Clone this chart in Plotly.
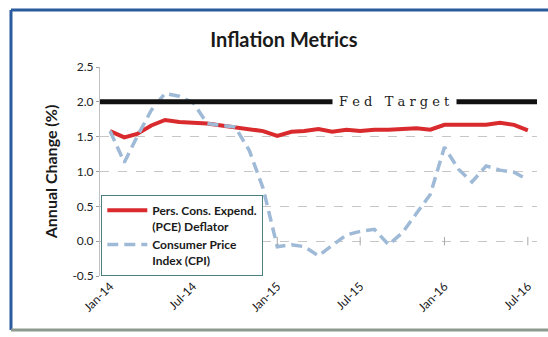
import plotly.graph_objects as go

# Monthly observations, Jan-2014 .. Jul-2016
months = [
    "2014-01-01", "2014-02-01", "2014-03-01", "2014-04-01", "2014-05-01", "2014-06-01",
    "2014-07-01", "2014-08-01", "2014-09-01", "2014-10-01", "2014-11-01", "2014-12-01",
    "2015-01-01", "2015-02-01", "2015-03-01", "2015-04-01", "2015-05-01", "2015-06-01",
    "2015-07-01", "2015-08-01", "2015-09-01", "2015-10-01", "2015-11-01", "2015-12-01",
    "2016-01-01", "2016-02-01", "2016-03-01", "2016-04-01", "2016-05-01", "2016-06-01",
    "2016-07-01",
]

# Personal consumption expenditures deflator, annual % change
pce = [
    1.58, 1.49, 1.54, 1.66, 1.74, 1.71, 1.70, 1.69, 1.66, 1.63, 1.61, 1.58,
    1.51, 1.57, 1.58, 1.61, 1.57, 1.60, 1.58, 1.60, 1.60, 1.61, 1.62, 1.60,
    1.67, 1.67, 1.67, 1.67, 1.70, 1.67, 1.59,
]

# Consumer price index, annual % change
cpi = [
    1.58, 1.13, 1.50, 1.88, 2.12, 2.08, 1.99, 1.69, 1.66, 1.64, 1.30, 0.76,
    -0.08, -0.05, -0.08, -0.21, -0.06, 0.09, 0.14, 0.17, -0.05, 0.12, 0.40, 0.67,
    1.35, 1.03, 0.85, 1.08, 1.02, 0.99, 0.88,
]

fed_target = 2.0

tick_dates = ["2014-01-01", "2014-07-01", "2015-01-01", "2015-07-01", "2016-01-01", "2016-07-01"]
tick_text = ["Jan-14", "Jul-14", "Jan-15", "Jul-15", "Jan-16", "Jul-16"]
y_ticks = [-0.5, 0.0, 0.5, 1.0, 1.5, 2.0, 2.5]
y_text = ["-0.5", "0.0", "0.5", "1.0", "1.5", "2.0", "2.5"]

FONT = "Lato, 'Open Sans', sans-serif"

fig = go.Figure()

fig.add_trace(go.Scatter(
    x=months, y=pce, mode="lines",
    name="Pers. Cons. Expend.<br>(PCE) Deflator",
    line=dict(color="#d92a2e", width=4),
))
fig.add_trace(go.Scatter(
    x=months, y=cpi, mode="lines",
    name="Consumer Price<br>Index (CPI)",
    line=dict(color="#9fbad6", width=3.5, dash="11px,6px"),
))

# small tick marks on the horizontal axis, which crosses at zero
fig.add_trace(go.Scatter(
    x=tick_dates, y=[0.0] * len(tick_dates), mode="markers",
    marker=dict(symbol="line-ns-open", size=6, color="#a8a8a8",
                line=dict(color="#a8a8a8", width=1)),
    showlegend=False, hoverinfo="skip",
))

# Fed target reference line across the full plot width
fig.add_shape(type="line", xref="paper", yref="y", x0=0, x1=1, y0=fed_target, y1=fed_target,
              line=dict(color="#111111", width=5), layer="above")
fig.add_annotation(xref="paper", yref="y", x=0.675, y=fed_target,
                   xanchor="center", yanchor="middle",
                   text="F e d   T a r g e t", showarrow=False,
                   font=dict(family="'DejaVu Serif', serif", size=13, color="#222222"),
                   bgcolor="white", borderpad=6)

# outer chart frame
fig.add_shape(type="line", xref="paper", yref="paper", x0=-0.2037, x1=1.05, y0=1.2727, y1=1.2727,
              line=dict(color="#2a5b9c", width=3))
fig.add_shape(type="line", xref="paper", yref="paper", x0=-0.2037, x1=-0.2037, y0=1.2727, y1=-0.2584,
              line=dict(color="#2a5b9c", width=3))
fig.add_shape(type="line", xref="paper", yref="paper", x0=-0.2037, x1=1.05, y0=-0.2584, y1=-0.2584,
              line=dict(color="#8c9a90", width=3))

fig.update_layout(
    width=548, height=337,
    margin=dict(l=100, r=11, t=67, b=61),
    paper_bgcolor="white", plot_bgcolor="white",
    title=dict(text="<b>Inflation Metrics</b>", x=0.518, xanchor="center", y=0.88, yanchor="middle",
               font=dict(family=FONT, size=20, color="#1a1a1a")),
    font=dict(family=FONT, color="#222222"),
    showlegend=True,
    legend=dict(
        x=0.003, y=0.0, xanchor="left", yanchor="bottom",
        bgcolor="white", bordercolor="#4a8080", borderwidth=1,
        font=dict(family=FONT, size=12, color="#1a1a1a"),
        valign="top", tracegroupgap=0, itemwidth=40,
    ),
    xaxis=dict(
        type="date", range=["2013-12-10", "2016-07-21"],
        tickmode="array", tickvals=tick_dates, ticktext=tick_text,
        tickangle=-45, tickfont=dict(family=FONT, size=12, color="#222222"),
        showgrid=False, showline=False, zeroline=False, ticks="",
    ),
    yaxis=dict(
        range=[-0.5, 2.5], tickmode="array", tickvals=y_ticks, ticktext=y_text,
        tickfont=dict(family=FONT, size=12, color="#222222"),
        showgrid=True, gridcolor="#c6c6c6", griddash="dash", gridwidth=1,
        showline=True, linecolor="#c0c0c0", linewidth=1,
        ticks="outside", ticklen=3, tickcolor="#a0a0a0",
        zeroline=False,
        title=dict(text="<b>Annual Change (%)</b>", font=dict(family=FONT, size=16, color="#1a1a1a"),
                   standoff=10),
    ),
)

# legend labels in bold
for tr in fig.data:
    if tr.name:
        tr.name = "<b>" + tr.name.replace("<br>", "</b><br><b>") + "</b>"

fig.write_html("out.html")
